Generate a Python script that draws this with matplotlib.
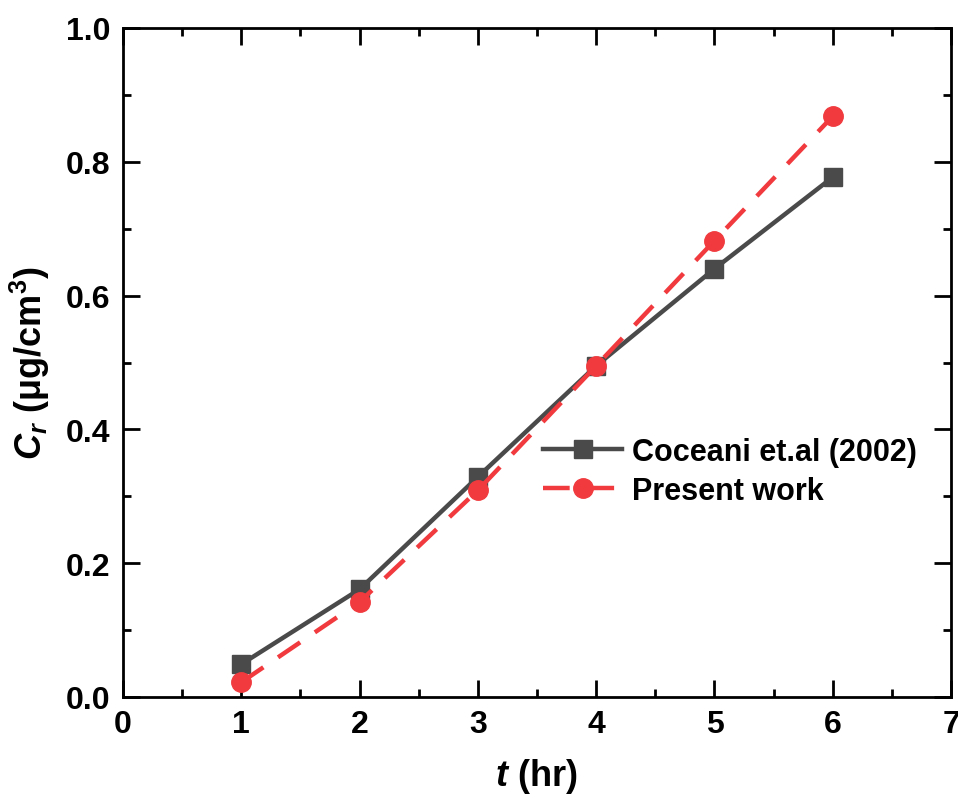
import numpy as np
import matplotlib.pyplot as plt
from matplotlib.ticker import MultipleLocator

plt.rcParams.update({
    "font.family": ["Liberation Sans", "DejaVu Sans"],
    "font.weight": "bold",
    "mathtext.fontset": "custom",
    "mathtext.it": "Liberation Sans:italic:bold",
    "mathtext.rm": "Liberation Sans:bold",
    "mathtext.bf": "Liberation Sans:bold",
})

# data
t_hr = [1, 2, 3, 4, 5, 6]
cr_coceani = [0.049, 0.161, 0.329, 0.495, 0.640, 0.777]
cr_present = [0.022, 0.142, 0.309, 0.495, 0.682, 0.868]

fig = plt.figure(figsize=(9.58, 8.03), dpi=100)
ax = fig.add_axes([123/958, 1 - 698/803, (951-123)/958, (698-29)/803])

ax.plot(t_hr, cr_coceani, color="#4a4a4a", lw=3.2, marker="s", ms=13,
        label="Coceani et.al (2002)")
ax.plot(t_hr, cr_present, color="#f03a3e", lw=3.2, ls=(0, (6, 4)), marker="o",
        ms=14, label="Present work")

ax.set_xlim(0, 7)
ax.set_ylim(0, 1.0)
ax.xaxis.set_major_locator(MultipleLocator(1))
ax.xaxis.set_minor_locator(MultipleLocator(0.5))
ax.yaxis.set_major_locator(MultipleLocator(0.2))
ax.yaxis.set_minor_locator(MultipleLocator(0.1))
ax.tick_params(which="both", direction="in", top=True, right=True, width=2,
               labelsize=23, pad=9)
ax.tick_params(which="major", length=12)
ax.tick_params(which="minor", length=6)
for s in ax.spines.values():
    s.set_linewidth(2)

ax.set_xlabel(r"$t\ \mathrm{(hr)}$", fontsize=26, labelpad=12)
ax.set_ylabel(r"$C_r\ \mathrm{(\mu g/cm^3)}$", fontsize=26, labelpad=10)

ax.legend(loc="upper left", bbox_to_anchor=(0.474, 0.43), frameon=False,
          fontsize=22, handlelength=2.6, handletextpad=0.3, labelspacing=0.3)

plt.savefig("out.png", dpi=100)
